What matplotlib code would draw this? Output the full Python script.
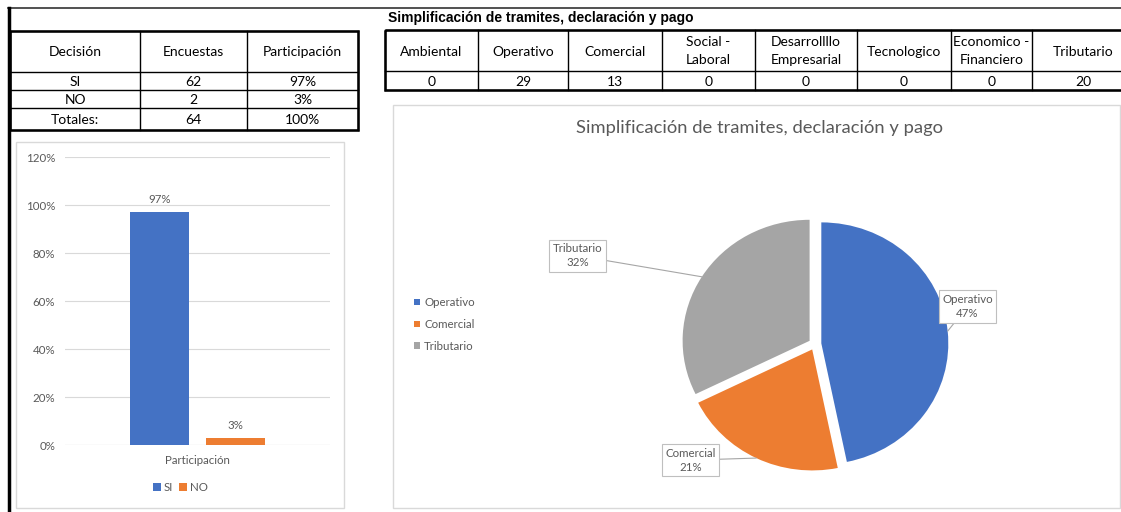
import numpy as np
import matplotlib
matplotlib.use("Agg")
import matplotlib.pyplot as plt
from matplotlib.patches import Rectangle

plt.rcParams['font.family'] = ['Lato', 'DejaVu Sans']

# ---- data ----
decision_header = ['Decisión', 'Encuestas', 'Participación']
decision_labels = ['SI', 'NO', 'Totales:']
encuestas = [62, 2, 64]
participacion = [0.97, 0.03, 1.00]

table_title = 'Simplificación de tramites, declaración y pago'
areas = ['Ambiental', 'Operativo', 'Comercial', 'Social -\nLaboral',
         'Desarrollllo\nEmpresarial', 'Tecnologico', 'Economico -\nFinanciero',
         'Tributario']
area_counts = [0, 29, 13, 0, 0, 0, 0, 20]

pie_labels = ['Operativo', 'Comercial', 'Tributario']
pie_values = [29, 13, 20]
pie_colors = ['#4472C4', '#ED7D31', '#A5A5A5']

W, H = 1121, 512
fig = plt.figure(figsize=(W / 100, H / 100), dpi=100)


def px_box(x0, y0, x1, y1):
    # pixel box (top-left origin) -> figure fraction
    return [x0 / W, 1 - y1 / H, (x1 - x0) / W, (y1 - y0) / H]


# background layer in pixel coordinates for tables and frames
bg = fig.add_axes([0, 0, 1, 1])
bg.set_xlim(0, W)
bg.set_ylim(H, 0)
bg.axis('off')

# sheet borders
bg.plot([8, W], [8, 8], color='#333333', lw=1.2)
bg.plot([9, 9], [8, H], color='black', lw=2.5)


def draw_table(cols, rows, cells, fs=10):
    for x in cols:
        bg.plot([x, x], [rows[0], rows[-1]], color='black', lw=1.0)
    for y in rows:
        bg.plot([cols[0], cols[-1]], [y, y], color='black', lw=1.0)
    bg.add_patch(Rectangle((cols[0], rows[0]), cols[-1] - cols[0], rows[-1] - rows[0],
                           fill=False, ec='black', lw=1.8))
    for r, row in enumerate(cells):
        for c, txt in enumerate(row):
            bg.text((cols[c] + cols[c + 1]) / 2, (rows[r] + rows[r + 1]) / 2 + 1, txt,
                    ha='center', va='center', fontsize=fs, color='black',
                    linespacing=1.6)


left_cells = [decision_header] + [
    [d, str(e), f'{p:.0%}'] for d, e, p in zip(decision_labels, encuestas, participacion)]
draw_table([10, 140, 247, 358], [31, 72, 90, 108, 130], left_cells)

bg.text(388, 18, table_title, fontsize=10, fontweight='bold',
        family='Liberation Sans', va='center', ha='left')
right_cells = [areas, [str(v) for v in area_counts]]
draw_table([385, 478, 568, 662, 755, 857, 951, 1032, 1135], [30, 71, 90], right_cells)

# chart frames
bg.add_patch(Rectangle((16, 142), 328, 366, fill=False, ec='#D9D9D9', lw=1))
bg.add_patch(Rectangle((393, 105), 727, 403, fill=False, ec='#D9D9D9', lw=1))

# ---- bar chart ----
grey = '#595959'
fs_small = 8.3
ax = fig.add_axes(px_box(65, 157, 330, 445))
ax.set_facecolor('none')
ax.set_xlim(-0.5, 0.5)
ax.set_ylim(0, 1.2)
offs = [-0.142, 0.142]
for o, v, lab, col in zip(offs, participacion[:2], decision_labels[:2], pie_colors[:2]):
    ax.bar(o, v, width=0.222, color=col, label=lab, zorder=3)
    ax.text(o, v + 0.03, f'{v:.0%}', ha='center', va='bottom', fontsize=fs_small, color=grey)
ax.set_yticks(np.arange(0, 1.21, 0.2))
ax.set_yticklabels([f'{t:.0%}' for t in np.arange(0, 1.21, 0.2)], fontsize=fs_small, color=grey)
ax.set_xticks([0])
ax.set_xticklabels(['Participación'], fontsize=fs_small, color=grey)
ax.tick_params(length=0, pad=7)
ax.grid(axis='y', color='#D9D9D9', lw=0.8, zorder=0)
for s in ax.spines.values():
    s.set_visible(False)
ax.axhline(0, color='#D9D9D9', lw=0.8)
ax.legend(loc='center', bbox_to_anchor=(0.434, -0.148), ncol=2, frameon=False,
          fontsize=fs_small, handlelength=0.7, handleheight=0.7, handletextpad=0.25,
          columnspacing=0.5, labelcolor=grey)

# ---- pie chart ----
cx, cy, rx, ry = 815, 344, 127, 121
pax = fig.add_axes(px_box(cx - 1.3 * rx, cy - 1.3 * ry, cx + 1.3 * rx, cy + 1.3 * ry))
expl = 0.05
wedges, _ = pax.pie(pie_values, colors=pie_colors, startangle=90, counterclock=False,
                    explode=[expl] * 3, radius=1, frame=True,
                    wedgeprops=dict(linewidth=0))
pax.set_xlim(-1.3, 1.3)
pax.set_ylim(-1.3, 1.3)
pax.set_aspect('auto')
pax.axis('off')

label_pos = [(1.2, 0.31), (-0.98, -0.96), (-1.87, 0.73)]
total = sum(pie_values)
for w, lab, v, pos in zip(wedges, pie_labels, pie_values, label_pos):
    mid = np.deg2rad((w.theta1 + w.theta2) / 2)
    r = 1 + expl
    pax.annotate(f'{lab}\n{v / total:.0%}', xy=(r * np.cos(mid), r * np.sin(mid)),
                 xytext=pos, ha='center', va='center', fontsize=fs_small, color=grey,
                 annotation_clip=False, linespacing=1.35,
                 bbox=dict(boxstyle='square,pad=0.3', fc='white', ec='#BFBFBF', lw=0.8),
                 arrowprops=dict(arrowstyle='-', color='#A6A6A6', lw=0.8,
                                 shrinkA=0, shrinkB=0))

fig.text(760 / W, 1 - 128 / H, 'Simplificación de tramites, declaración y pago',
         ha='center', va='center', fontsize=13.2, color=grey)
fig.legend(wedges, pie_labels, loc='upper left',
           bbox_to_anchor=(404 / W, 1 - 287 / H), frameon=False, fontsize=fs_small,
           handlelength=0.45, handleheight=0.45, handletextpad=0.4, labelspacing=0.92,
           labelcolor=grey)

fig.savefig('out.png', dpi=100)
